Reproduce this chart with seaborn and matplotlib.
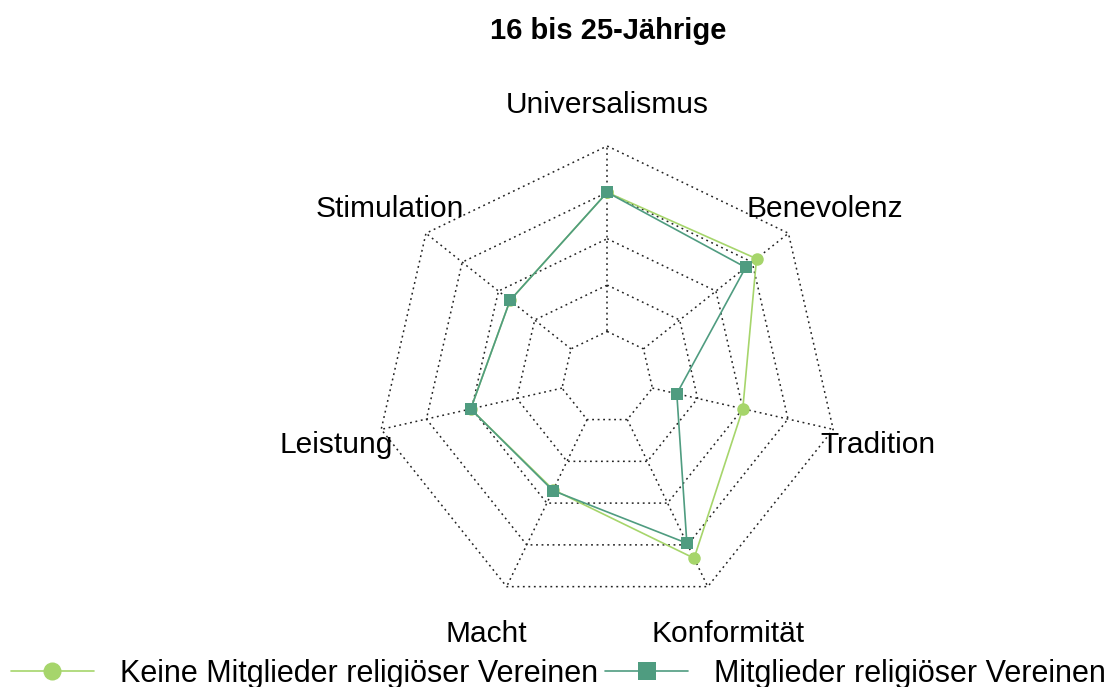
import numpy as np
import pandas as pd
import matplotlib
matplotlib.use("Agg")
import matplotlib.pyplot as plt
from matplotlib.lines import Line2D
import seaborn as sns

# values, scaled 0..1 (0 = inner ring, 1 = outer ring)
categories = ["Universalismus", "Benevolenz", "Tradition", "Konformität",
              "Macht", "Leistung", "Stimulation"]
groups = ["Keine Mitglieder religiöser Vereinen", "Mitglieder religiöser Vereinen"]
keine = [0.75, 0.78, 0.50, 0.83, 0.42, 0.505, 0.42]
mitglieder = [0.75, 0.705, 0.135, 0.74, 0.425, 0.505, 0.42]
colors = ["#a6d56b", "#4f9c80"]

sns.set_theme(style="white")
plt.rcParams['font.family'] = ['Liberation Sans', 'DejaVu Sans']

n = len(categories)
theta = np.pi / 2 - np.arange(n) * 2 * np.pi / n
inner = 0.2  # fmsb-style gap in the middle


def to_xy(vals):
    r = inner + (1 - inner) * np.asarray(vals)
    r = np.append(r, r[0])
    t = np.append(theta, theta[0])
    return r * np.cos(t), r * np.sin(t)


rows = []
for g, vals in zip(groups, [keine, mitglieder]):
    xs, ys = to_xy(vals)
    for i, (x, y) in enumerate(zip(xs, ys)):
        rows.append({"group": g, "order": i, "x": x, "y": y})
df = pd.DataFrame(rows)

fig = plt.figure(figsize=(11.1, 6.87), dpi=100)
ax = fig.add_axes([0, 0, 1, 1])
cx, cy, R = 607.2, 377.8, 231.8
ax.set_xlim(-cx / R, (1110 - cx) / R)
ax.set_ylim(-(687 - cy) / R, cy / R)
ax.axis("off")

# grid
grid_kw = dict(color="#222222", lw=1.1, ls=(0, (1.2, 2.4)), zorder=1)
for lev in [0.2, 0.4, 0.6, 0.8, 1.0]:
    t = np.append(theta, theta[0])
    ax.plot(lev * np.cos(t), lev * np.sin(t), **grid_kw)
for t in theta:
    ax.plot([inner * np.cos(t), np.cos(t)], [inner * np.sin(t), np.sin(t)],
            **grid_kw)

sns.lineplot(data=df, x="x", y="y", hue="group", style="group",
             hue_order=groups, style_order=groups, palette=colors,
             markers={groups[0]: "o", groups[1]: "s"}, dashes=False,
             sort=False, estimator=None, units="group", lw=1.2,
             markersize=9, markeredgewidth=0, legend=False, ax=ax, zorder=3)

for c, t in zip(categories, theta):
    ax.text(1.2 * np.cos(t), 1.2 * np.sin(t) - 0.022, c, ha="center",
            va="center", fontsize=21.5, color="black")

fig.text(0.548, 1 - 31 / 687, "16 bis 25-Jährige", ha="center", va="center",
         fontsize=21, fontweight="bold", color="black")

handles = [Line2D([], [], color=colors[0], marker="o", lw=1.2, markersize=13,
                  markeredgewidth=0),
           Line2D([], [], color=colors[1], marker="s", lw=1.2, markersize=13,
                  markeredgewidth=0)]
leg = fig.legend(handles, groups, loc="center", bbox_to_anchor=(0.503, 0.019),
                 ncol=2, frameon=False, fontsize=22, handlelength=2.7,
                 handletextpad=0.85, columnspacing=0.25)
for txt in leg.get_texts():
    txt.set_color("black")

fig.savefig("out.png", dpi=100)
